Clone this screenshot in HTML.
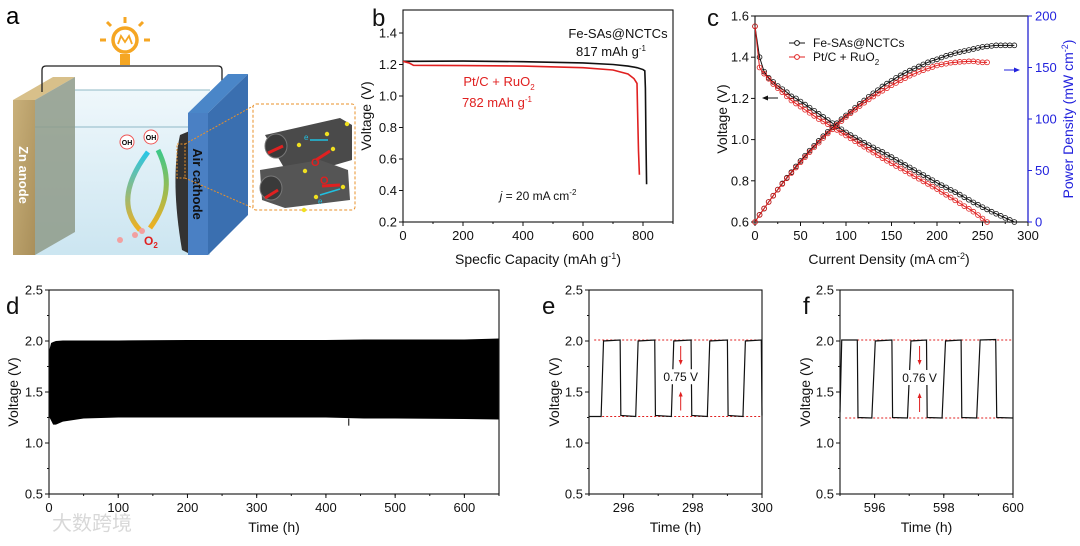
<!DOCTYPE html>
<html><head><meta charset="utf-8"><style>
html,body{margin:0;padding:0;background:#fff;}
svg{display:block;font-family:"Liberation Sans",Arial,sans-serif;}
</style></head><body>
<svg id="fig" width="1080" height="546" viewBox="0 0 1080 546" xmlns="http://www.w3.org/2000/svg">
<defs>
<linearGradient id="zn" x1="0" y1="0" x2="1" y2="1"><stop offset="0" stop-color="#c9b07a"/><stop offset="1" stop-color="#a98f5a"/></linearGradient>
<linearGradient id="glass" x1="0" y1="0" x2="0" y2="1"><stop offset="0" stop-color="#eef7fb"/><stop offset="1" stop-color="#c9e4f0"/></linearGradient>
<linearGradient id="arc1" x1="0" y1="0" x2="0" y2="1"><stop offset="0" stop-color="#29c6e6"/><stop offset="1" stop-color="#f0b020"/></linearGradient>
<linearGradient id="arc2" x1="0" y1="1" x2="0" y2="0"><stop offset="0" stop-color="#f0b020"/><stop offset="1" stop-color="#3cc88a"/></linearGradient>
</defs>
<g>
<text x="6" y="24" font-size="24">a</text>
<polygon points="35,90 210,90 210,255 35,255" fill="url(#glass)" opacity="0.95"/>
<line x1="75" y1="90" x2="210" y2="90" stroke="#8fb8c6"/>
<line x1="35" y1="127" x2="190" y2="127" stroke="#8fb8c6"/>
<polygon points="13,100 35,100 75,77 53,77" fill="#d8c08a"/>
<polygon points="35,100 75,77 75,232 35,255" fill="#8e9a88" opacity="0.85"/>
<rect x="13" y="100" width="22" height="155" fill="url(#zn)"/>
<text transform="translate(19,175) rotate(90)" font-size="13" font-weight="bold" fill="#fff" text-anchor="middle">Zn anode</text>
<path d="M42,92 L42,70 Q42,66 46,66 L218,66 Q222,66 222,70 L222,92" fill="none" stroke="#222" stroke-width="1.3"/>
<circle cx="125" cy="40" r="12" fill="#fff" stroke="#f5a623" stroke-width="3.5"/>
<path d="M118,44 l3,-8 l4,6 l4,-6 l3,8" fill="none" stroke="#f5a623" stroke-width="1.8"/>
<rect x="120" y="54" width="10" height="11" fill="#f5a623"/>
<g stroke="#f5a623" stroke-width="3"><line x1="125" y1="17" x2="125" y2="23"/><line x1="106" y1="40" x2="100" y2="40"/><line x1="144" y1="40" x2="150" y2="40"/><line x1="111" y1="26" x2="107" y2="22"/><line x1="139" y1="26" x2="143" y2="22"/></g>
<path d="M180,135 Q170,180 182,250 L192,255 L192,130 Z" fill="#333"/>
<polygon points="188,113 208,113 248,74 228,74" fill="#4a86c8"/>
<polygon points="208,113 248,74 248,215 208,255" fill="#3a6fb0"/>
<rect x="188" y="113" width="20" height="142" fill="#4a80c4"/>
<text transform="translate(193,184) rotate(90)" font-size="13" font-weight="bold" fill="#111" text-anchor="middle">Air cathode</text>
<rect x="177" y="144" width="8" height="34" fill="none" stroke="#e8902a" stroke-dasharray="2,1.5"/>
<line x1="185" y1="144" x2="253" y2="106" stroke="#e8902a" stroke-dasharray="2,1.5"/>
<line x1="185" y1="178" x2="253" y2="208" stroke="#e8902a" stroke-dasharray="2,1.5"/>
<path d="M148,152 Q112,200 140,230" fill="none" stroke="url(#arc1)" stroke-width="5"/>
<path d="M150,228 Q178,190 158,150" fill="none" stroke="url(#arc2)" stroke-width="5"/>
<circle cx="127" cy="142" r="7" fill="#fff" stroke="#e55"/>
<text x="127" y="145" font-size="7" text-anchor="middle" font-weight="bold">OH</text>
<circle cx="151" cy="137" r="7" fill="#fff" stroke="#e55"/>
<text x="151" y="140" font-size="7" text-anchor="middle" font-weight="bold">OH</text>
<circle cx="120" cy="240" r="3" fill="#f2a0a0"/><circle cx="135" cy="235" r="3" fill="#f2a0a0"/><circle cx="142" cy="231" r="3" fill="#f2a0a0"/>
<text x="144" y="245" font-size="12" fill="#e02020" font-weight="bold">O<tspan font-size="8" dy="3">2</tspan></text>
<rect x="253" y="104" width="102" height="106" rx="3" fill="#fff" stroke="#e8902a" stroke-dasharray="3,2"/>
<g>
<path d="M265,135 L340,118 L352,125 L352,160 L290,178 Z" fill="#4a4a4a"/>
<path d="M260,170 L320,160 L348,170 L350,200 L285,208 L262,200 Z" fill="#555"/>
<ellipse cx="276" cy="146" rx="11" ry="12" fill="#3a3a3a" stroke="#777"/>
<ellipse cx="271" cy="188" rx="11" ry="12" fill="#3a3a3a" stroke="#777"/>
<g fill="#f0e020"><circle cx="299" cy="145" r="2.2"/><circle cx="333" cy="149" r="2.2"/><circle cx="347" cy="124" r="2.2"/><circle cx="305" cy="171" r="2.2"/><circle cx="343" cy="187" r="2.2"/><circle cx="316" cy="197" r="2.2"/><circle cx="304" cy="210" r="2.2"/><circle cx="327" cy="134" r="2.2"/></g>
<g stroke="#e02020" stroke-width="3"><line x1="268" y1="153" x2="283" y2="146"/><line x1="316" y1="160" x2="330" y2="151"/><line x1="322" y1="186" x2="340" y2="185"/><line x1="265" y1="198" x2="278" y2="190"/></g>
<g stroke="#20c0e0" stroke-width="1.5"><line x1="310" y1="140" x2="328" y2="140"/><line x1="320" y1="195" x2="340" y2="189"/></g>
<text x="304" y="140" font-size="8" fill="#20c0e0">e</text><text x="318" y="204" font-size="8" fill="#20c0e0">e</text>
<text x="311" y="166" font-size="11" fill="#e02020" font-weight="bold">O</text><text x="320" y="184" font-size="11" fill="#e02020" font-weight="bold">O</text>
</g>
</g>
<g id="charts"></g>
</svg>
<script>
// Panel b: discharge curves
const bFeCap = [0, 50, 200, 400, 600, 700, 750, 780, 800, 806, 808, 810, 812];
const bFeV   = [1.22, 1.22, 1.222, 1.218, 1.21, 1.2, 1.19, 1.18, 1.168, 1.16, 1.05, 0.7, 0.44];
const bPtCap = [0, 20, 35, 200, 400, 600, 700, 750, 770, 780, 782, 785, 788];
const bPtV   = [1.22, 1.21, 1.195, 1.193, 1.19, 1.18, 1.165, 1.14, 1.11, 1.08, 0.9, 0.65, 0.5];
// Panel c: polarization & power density
const cFeJ = [0,5,10,15,20,25,30,35,40,45,50,55,60,65,70,75,80,85,90,95,100,105,110,115,120,125,130,135,140,145,150,155,160,165,170,175,180,185,190,195,200,205,210,215,220,225,230,235,240,245,250,255,260,265,270,275,280,285];
const cFeV = [1.55,1.40,1.33,1.30,1.28,1.26,1.245,1.23,1.21,1.20,1.185,1.17,1.155,1.14,1.125,1.11,1.095,1.08,1.065,1.05,1.035,1.022,1.01,0.997,0.985,0.973,0.962,0.95,0.94,0.927,0.915,0.902,0.89,0.877,0.865,0.852,0.84,0.828,0.815,0.803,0.79,0.779,0.768,0.756,0.745,0.733,0.72,0.708,0.695,0.684,0.672,0.661,0.65,0.64,0.63,0.62,0.61,0.60];
const cFeP = [0,7,13,19.5,25.6,31.5,37.4,43,48.4,54,59.3,64.4,69.3,74,78.8,83.3,87.6,91.8,95.9,99.8,103.5,107,111,114.7,118,121.6,125,128,131.6,134.4,137,140,142.4,144.7,147,149,151,153,155,156.6,158,159.7,161.3,162.6,164,165,166,167,168,169,170,170.5,171,171.5,171.5,171.5,171.5,171.5];
const cPtJ = [0,5,10,15,20,25,30,35,40,45,50,55,60,65,70,75,80,85,90,95,100,105,110,115,120,125,130,135,140,145,150,155,160,165,170,175,180,185,190,195,200,205,210,215,220,225,230,235,240,245,250,255];
const cPtV = [1.55,1.35,1.32,1.295,1.27,1.25,1.23,1.21,1.19,1.175,1.16,1.145,1.13,1.115,1.10,1.088,1.075,1.06,1.047,1.033,1.02,1.006,0.992,0.979,0.965,0.951,0.937,0.924,0.91,0.897,0.885,0.872,0.86,0.847,0.835,0.822,0.81,0.797,0.785,0.772,0.76,0.746,0.732,0.719,0.705,0.691,0.677,0.664,0.65,0.634,0.617,0.60];
const cPtP = [0,6.8,13.2,19.4,25.4,31.3,36.9,42.4,47.6,52.9,58,63,67.8,72.5,77,81.6,86,90,94.2,98,102,105.6,109,112.6,115.8,119,121.8,124.7,127.4,130,132.8,135,137.6,139.7,142,143.9,145.8,147.4,149,150.5,152,153,153.7,154.6,155,155.5,155.7,156,156,155.4,155,155];
// Panel d: cycling envelope
const dT     = [0, 3, 6, 10, 20, 50, 100, 200, 240, 300, 400, 455, 500, 600, 650];
const dUpper = [1.9, 1.98, 1.99, 2.0, 2.005, 2.005, 2.005, 2.01, 2.01, 2.01, 2.01, 2.015, 2.015, 2.015, 2.025];
const dLower = [1.26, 1.22, 1.18, 1.18, 1.21, 1.24, 1.25, 1.25, 1.25, 1.25, 1.25, 1.24, 1.24, 1.235, 1.23];
// Panel e
const eT = [295.0, 295.35, 295.42, 295.9, 295.92, 296.35, 296.42, 296.9, 296.92, 297.38, 297.45, 297.95, 297.97, 298.42, 298.49, 299.0, 299.02, 299.45, 299.52, 299.98, 300.0];
const eV = [1.26, 1.26, 2.0, 2.01, 1.27, 1.26, 2.0, 2.01, 1.27, 1.26, 2.0, 2.01, 1.27, 1.26, 2.0, 2.01, 1.27, 1.26, 2.0, 2.01, 1.27];
// Panel f
const fT = [595.0, 595.05, 595.5, 595.52, 595.92, 596.02, 596.5, 596.52, 596.95, 597.05, 597.5, 597.52, 597.95, 598.05, 598.5, 598.52, 598.95, 599.05, 599.5, 599.53, 600.0];
const fV = [1.3, 2.01, 2.01, 1.25, 1.245, 2.0, 2.01, 1.25, 1.245, 2.0, 2.01, 1.25, 1.245, 2.0, 2.01, 1.25, 1.245, 2.01, 2.015, 1.25, 1.245];
// tick labels
const bXTicks = [0, 200, 400, 600, 800];
const bYTicks = [0.2, 0.4, 0.6, 0.8, 1.0, 1.2, 1.4];
const cXTicks = [0, 50, 100, 150, 200, 250, 300];
const cYTicks = [0.6, 0.8, 1.0, 1.2, 1.4, 1.6];
const cY2Ticks = [0, 50, 100, 150, 200];
const dXTicks = [0, 100, 200, 300, 400, 500, 600];
const vTicks = [0.5, 1.0, 1.5, 2.0, 2.5];
const eXTicks = [296, 298, 300];
const fXTicks = [596, 598, 600];

const NS = 'http://www.w3.org/2000/svg';
const root = document.getElementById('charts');
function mk(tag, attrs, name, parent) {
  const el = document.createElementNS(NS, tag);
  for (const k in attrs) el.setAttribute(k, attrs[k]);
  
  
  (parent || root).appendChild(el);
  return el;
}
function txt(x, y, s, name, opts) {
  opts = opts || {};
  const el = mk('text', {x: x, y: y, 'font-size': opts.size || 13, 'text-anchor': opts.anchor || 'middle', fill: opts.fill || '#111'}, name);
  if (opts.rot) el.setAttribute('transform', 'rotate(-90 ' + x + ' ' + y + ')');
  el.innerHTML = s;
  return el;
}
function scale(d0, d1, r0, r1) { return v => r0 + (v - d0) * (r1 - r0) / (d1 - d0); }
function axesBox(p, name) {
  mk('rect', {x: p.x0, y: p.y0, width: p.x1 - p.x0, height: p.y1 - p.y0, fill: 'none', stroke: '#111', 'stroke-width': 1.1}, name + '-frame');
}
function xTicks(p, sx, ticks, minorStep, dmin, dmax, name, fmt) {
  ticks.forEach(t => {
    mk('line', {x1: sx(t), y1: p.y1, x2: sx(t), y2: p.y1 + 4, stroke: '#111'}, name + '-x-tick');
    txt(sx(t), p.y1 + 18, fmt ? fmt(t) : t, name + '-x-tick-label');
  });
  if (minorStep) for (let v = dmin; v <= dmax + 1e-9; v += minorStep) {
    mk('line', {x1: sx(v), y1: p.y1, x2: sx(v), y2: p.y1 + 2, stroke: '#111'}, name + '-x-minor-tick');
  }
}
function yTicks(p, sy, ticks, name, fmt, right, color) {
  ticks.forEach(t => {
    const x = right ? p.x1 : p.x0;
    mk('line', {x1: x, y1: sy(t), x2: right ? x + 4 : x - 4, y2: sy(t), stroke: color || '#111'}, name + '-y-tick');
    txt(right ? x + 7 : x - 6, sy(t) + 4.5, fmt ? fmt(t) : t, name + '-y-tick-label', {anchor: right ? 'start' : 'end', fill: color || '#111'});
  });
}
function poly(xs, ys, sx, sy, stroke, name, w) {
  const pts = xs.map((x, i) => sx(x).toFixed(2) + ',' + sy(ys[i]).toFixed(2)).join(' ');
  return mk('polyline', {points: pts, fill: 'none', stroke: stroke, 'stroke-width': w || 1.3}, name);
}
function markers(xs, ys, sx, sy, stroke, name) {
  xs.forEach((x, i) => mk('circle', {cx: sx(x), cy: sy(ys[i]), r: 2.4, fill: 'none', stroke: stroke, 'stroke-width': 0.8}, name));
}
const f1 = v => v.toFixed(1);

(function () {
  const p = {x0: 403, x1: 673, y0: 10, y1: 222};
  const sx = scale(0, 900, p.x0, p.x1), sy = scale(0.2, 1.546, p.y1, p.y0);
  txt(372, 26, 'b', 'panel-label-b', {size: 24, anchor: 'start'});
  axesBox(p, 'panel-b');
  xTicks(p, sx, bXTicks, 100, 0, 900, 'panel-b');
  yTicks(p, sy, bYTicks, 'panel-b', f1);
  poly(bFeCap, bFeV, sx, sy, '#111', 'fe-sas-discharge-line', 1.6);
  poly(bPtCap, bPtV, sx, sy, '#e02020', 'ptc-ruo2-discharge-line', 1.6);
  txt(618, 38, 'Fe-SAs@NCTCs', 'fe-sas-label', {size: 13});
  txt(611, 56, '817 mAh g<tspan font-size="8" dy="-5">-1</tspan>', 'fe-sas-capacity-label', {size: 13});
  txt(499, 86, 'Pt/C + RuO<tspan font-size="8" dy="4">2</tspan>', 'ptc-label', {size: 13, fill: '#e02020'});
  txt(497, 107, '782 mAh g<tspan font-size="8" dy="-5">-1</tspan>', 'ptc-capacity-label', {size: 13, fill: '#e02020'});
  txt(538, 200, '<tspan font-style="italic">j</tspan> = 20 mA cm<tspan font-size="8" dy="-5">-2</tspan>', 'current-density-note', {size: 12});
  txt(538, 264, 'Specfic Capacity (mAh g<tspan font-size="9" dy="-5">-1</tspan><tspan dy="5">)</tspan>', 'panel-b-x-title', {size: 14});
  txt(371, 116, 'Voltage (V)', 'panel-b-y-title', {size: 14, rot: true});
})();

(function () {
  const p = {x0: 755, x1: 1028, y0: 16, y1: 222};
  const sx = scale(0, 300, p.x0, p.x1), sy = scale(0.6, 1.6, p.y1, p.y0), sy2 = scale(0, 200, p.y1, p.y0);
  txt(707, 26, 'c', 'panel-label-c', {size: 24, anchor: 'start'});
  axesBox(p, 'panel-c');
  mk('line', {x1: p.x1, y1: p.y0, x2: p.x1, y2: p.y1, stroke: '#2222dd', 'stroke-width': 1.2}, 'panel-c-right-axis');
  xTicks(p, sx, cXTicks, 25, 0, 300, 'panel-c');
  yTicks(p, sy, cYTicks, 'panel-c', f1);
  yTicks(p, sy2, cY2Ticks, 'panel-c-right', null, true, '#2222dd');
  poly(cFeJ, cFeV, sx, sy, '#111', 'fe-sas-voltage-line', 1);
  markers(cFeJ, cFeV, sx, sy, '#111', 'fe-sas-voltage-marker');
  poly(cPtJ, cPtV, sx, sy, '#e02020', 'ptc-voltage-line', 1);
  markers(cPtJ, cPtV, sx, sy, '#e02020', 'ptc-voltage-marker');
  poly(cFeJ, cFeP, sx, sy2, '#111', 'fe-sas-power-line', 1);
  markers(cFeJ, cFeP, sx, sy2, '#111', 'fe-sas-power-marker');
  poly(cPtJ, cPtP, sx, sy2, '#e02020', 'ptc-power-line', 1);
  markers(cPtJ, cPtP, sx, sy2, '#e02020', 'ptc-power-marker');
  mk('line', {x1: 789, y1: 43, x2: 805, y2: 43, stroke: '#111'}, 'legend-fe-line');
  mk('circle', {cx: 797, cy: 43, r: 2.4, fill: '#fff', stroke: '#111'}, 'legend-fe-marker');
  txt(813, 47, 'Fe-SAs@NCTCs', 'legend-fe-label', {anchor: 'start', size: 12});
  mk('line', {x1: 789, y1: 57, x2: 805, y2: 57, stroke: '#e02020'}, 'legend-ptc-line');
  mk('circle', {cx: 797, cy: 57, r: 2.4, fill: '#fff', stroke: '#e02020'}, 'legend-ptc-marker');
  txt(813, 61, 'Pt/C + RuO<tspan font-size="8" dy="4">2</tspan>', 'legend-ptc-label', {anchor: 'start', size: 12});
  mk('line', {x1: 764, y1: 98, x2: 778, y2: 98, stroke: '#111'}, 'left-axis-arrow');
  mk('polygon', {points: '762,98 768,95.5 768,100.5', fill: '#111'}, 'left-axis-arrowhead');
  mk('line', {x1: 1004, y1: 70, x2: 1018, y2: 70, stroke: '#2222dd'}, 'right-axis-arrow');
  mk('polygon', {points: '1020,70 1014,67.5 1014,72.5', fill: '#2222dd'}, 'right-axis-arrowhead');
  txt(889, 264, 'Current Density (mA cm<tspan font-size="9" dy="-5">-2</tspan><tspan dy="5">)</tspan>', 'panel-c-x-title', {size: 14});
  txt(727, 119, 'Voltage (V)', 'panel-c-y-title', {size: 14, rot: true});
  txt(1073, 119, 'Power Density (mW cm<tspan font-size="9" dy="-5">-2</tspan><tspan dy="5">)</tspan>', 'panel-c-y2-title', {size: 14, rot: true, fill: '#2222dd'});
})();

(function () {
  const p = {x0: 49, x1: 499, y0: 290, y1: 494};
  const sx = scale(0, 650, p.x0, p.x1), sy = scale(0.5, 2.5, p.y1, p.y0);
  txt(6, 314, 'd', 'panel-label-d', {size: 24, anchor: 'start'});
  const up = dT.map((t, i) => sx(t).toFixed(2) + ',' + sy(dUpper[i]).toFixed(2));
  const lo = dT.map((t, i) => sx(t).toFixed(2) + ',' + sy(dLower[i]).toFixed(2)).reverse();
  mk('polygon', {points: up.concat(lo).join(' '), fill: '#000'}, 'cycling-voltage-band');
  mk('line', {x1: sx(433), y1: sy(1.24), x2: sx(433), y2: sy(1.17), stroke: '#000'}, 'cycling-spike');
  axesBox(p, 'panel-d');
  xTicks(p, sx, dXTicks, 50, 0, 650, 'panel-d');
  yTicks(p, sy, vTicks, 'panel-d', f1);
  for (let v = 0.75; v < 2.5; v += 0.5) mk('line', {x1: p.x0, y1: sy(v), x2: p.x0 - 2, y2: sy(v), stroke: '#111'}, 'panel-d-y-minor-tick');
  txt(274, 532, 'Time (h)', 'panel-d-x-title', {size: 14});
  txt(18, 392, 'Voltage (V)', 'panel-d-y-title', {size: 14, rot: true});
  txt(52, 530, '大数跨境', 'watermark', {size: 20, anchor: 'start', fill: '#d8d8d8'});
})();

function zoomPanel(label, lx, p, t0, t1, ticks, ts, vs, hi, lo, note, noteX, nm) {
  const sx = scale(t0, t1, p.x0, p.x1), sy = scale(0.5, 2.5, p.y1, p.y0);
  txt(lx, 314, label, 'panel-label-' + label, {size: 24, anchor: 'start'});
  mk('line', {x1: sx(t0 + 0.15), y1: sy(hi), x2: sx(t1), y2: sy(hi), stroke: '#e02020', 'stroke-dasharray': '2,2'}, nm + '-upper-ref-line');
  mk('line', {x1: sx(t0 + 0.15), y1: sy(lo), x2: sx(t1), y2: sy(lo), stroke: '#e02020', 'stroke-dasharray': '2,2'}, nm + '-lower-ref-line');
  poly(ts, vs, sx, sy, '#111', nm + '-voltage-line', 1.2);
  axesBox(p, nm);
  xTicks(p, sx, ticks, 1, t0, t1, nm);
  yTicks(p, sy, vTicks, nm, f1);
  for (let v = 0.75; v < 2.5; v += 0.5) mk('line', {x1: p.x0, y1: sy(v), x2: p.x0 - 2, y2: sy(v), stroke: '#111'}, nm + '-y-minor-tick');
  const ax = sx(noteX);
  mk('line', {x1: ax, y1: sy(hi) + 6, x2: ax, y2: sy(hi) + 22, stroke: '#e02020'}, nm + '-gap-arrow-down');
  mk('polygon', {points: (ax - 2) + ',' + (sy(hi) + 20) + ' ' + (ax + 2) + ',' + (sy(hi) + 20) + ' ' + ax + ',' + (sy(hi) + 25), fill: '#e02020'}, nm + '-gap-arrowhead-down');
  mk('line', {x1: ax, y1: sy(lo) - 6, x2: ax, y2: sy(lo) - 22, stroke: '#e02020'}, nm + '-gap-arrow-up');
  mk('polygon', {points: (ax - 2) + ',' + (sy(lo) - 20) + ' ' + (ax + 2) + ',' + (sy(lo) - 20) + ' ' + ax + ',' + (sy(lo) - 25), fill: '#e02020'}, nm + '-gap-arrowhead-up');
  mk('rect', {x: ax - 18, y: sy((hi + lo) / 2) - 9, width: 36, height: 15, fill: '#fff'}, nm + '-gap-label-bg');
  txt(ax, sy((hi + lo) / 2) + 3, note, nm + '-gap-label', {size: 12});
  txt((p.x0 + p.x1) / 2, 532, 'Time (h)', nm + '-x-title', {size: 14});
  txt(p.x0 - 30, 392, 'Voltage (V)', nm + '-y-title', {size: 14, rot: true});
}
zoomPanel('e', 542, {x0: 589, x1: 762, y0: 290, y1: 494}, 295, 300, eXTicks, eT, eV, 2.01, 1.26, '0.75 V', 297.65, 'panel-e');
zoomPanel('f', 803, {x0: 840, x1: 1013, y0: 290, y1: 494}, 595, 600, fXTicks, fT, fV, 2.01, 1.245, '0.76 V', 597.3, 'panel-f');
</script>
</body></html>
